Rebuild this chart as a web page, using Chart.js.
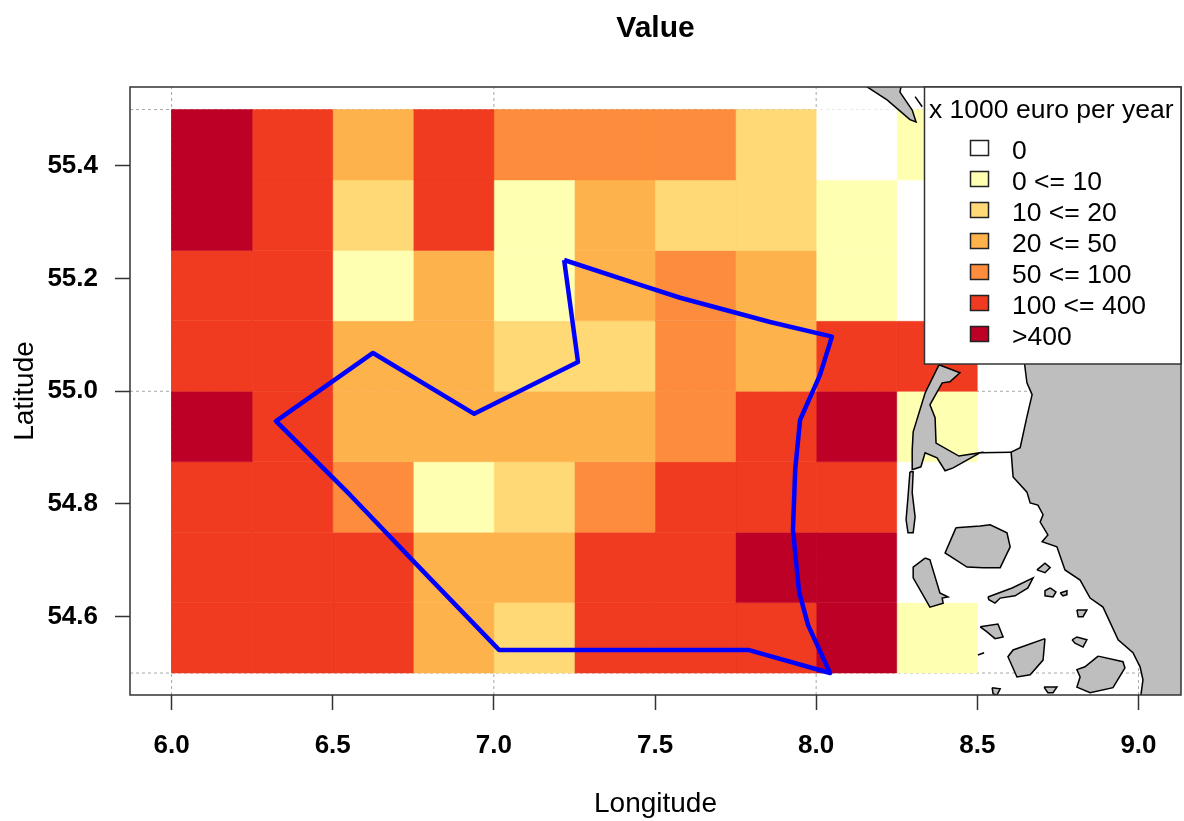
<!DOCTYPE html>
<html>
<head>
<meta charset="utf-8">
<title>Value</title>
<script src="https://cdn.jsdelivr.net/npm/chart.js@4/dist/chart.umd.min.js"></script>
<style>
  html, body { margin: 0; padding: 0; background: #fff; }
  #wrap { width: 1184px; height: 821px; }
</style>
</head>
<body>
<div id="wrap"><canvas id="map" width="1184" height="821"></canvas></div>
<script>
const FONT = '"Liberation Sans", Arial, sans-serif';

// grid cells: lower left corners, one row per latitude band, top row first
const cellLons = [6.0, 6.25, 6.5, 6.75, 7.0, 7.25, 7.5, 7.75, 8.0, 8.25];
const cellLats = [55.375, 55.25, 55.125, 55.0, 54.875, 54.75, 54.625, 54.5];
const cellClasses = [
  [6, 5, 3, 5, 4, 4, 4, 2, 0, 1],
  [6, 5, 2, 5, 1, 3, 2, 2, 1, 0],
  [5, 5, 1, 3, 1, 3, 4, 3, 1, 0],
  [5, 5, 3, 3, 2, 2, 4, 3, 5, 5],
  [6, 5, 3, 3, 3, 3, 4, 5, 6, 1],
  [5, 5, 4, 1, 2, 4, 5, 5, 5, 0],
  [5, 5, 5, 3, 3, 5, 5, 6, 6, 0],
  [5, 5, 5, 3, 2, 5, 5, 5, 6, 1]
];
const classLabels = ['0', '0 <= 10', '10 <= 20', '20 <= 50', '50 <= 100', '100 <= 400', '>400'];
const classColors = ['#FFFFFF', '#FFFFB2', '#FED976', '#FEB24C', '#FD8D3C', '#F03B20', '#BD0026'];
const legendTitle = 'x 1000 euro per year';

const xTicks = [6.0, 6.5, 7.0, 7.5, 8.0, 8.5, 9.0];
const yTicks = [54.6, 54.8, 55.0, 55.2, 55.4];
const gridLons = [6, 7, 8, 9];
const gridLats = [54.5, 55.0, 55.5];

// area outline
const areaOutline = [[7.218,55.233],[7.261,55.052],[6.939,54.960],[6.625,55.068],[6.324,54.947],[6.554,54.816],
  [6.783,54.679],[7.016,54.541],[7.789,54.541],[8.043,54.500],[7.975,54.585],[7.947,54.644],[7.928,54.754],
  [7.935,54.861],[7.950,54.949],[8.012,55.029],[8.049,55.097],[7.857,55.123],[7.578,55.166],[7.454,55.189],[7.218,55.233]];

// coast
const mainland = [[8.645,55.1],[8.645,55.056],[8.654,55.015],[8.670,54.994],[8.654,54.955],[8.633,54.900],[8.605,54.892],
  [8.611,54.848],[8.654,54.821],[8.664,54.802],[8.688,54.798],[8.704,54.781],[8.695,54.768],[8.719,54.745],[8.701,54.733],
  [8.747,54.724],[8.772,54.683],[8.819,54.665],[8.850,54.633],[8.890,54.617],[8.937,54.559],[8.983,54.536],[9.005,54.511],
  [9.014,54.488],[9.005,54.45],[9.2,54.45],[9.2,55.1],[8.645,55.1]];
const northIsland = [[8.105,55.56],[8.27,55.56],[8.260,55.531],[8.298,55.499],[8.310,55.478],[8.291,55.482],[8.220,55.517],[8.105,55.56]];
const northIslet = [[8.307,55.523],[8.329,55.505]];
const sylt = [[8.381,55.047],[8.446,55.033],[8.415,55.017],[8.391,55.015],[8.353,54.976],[8.369,54.953],[8.372,54.908],
  [8.443,54.885],[8.509,54.891],[8.425,54.864],[8.400,54.859],[8.375,54.882],[8.338,54.891],[8.325,54.866],[8.298,54.861],
  [8.298,54.896],[8.301,54.928],[8.338,54.997],[8.381,55.047]];
const causeway = [[8.509,54.891],[8.605,54.892]];
const sandStrip = [[8.291,54.857],[8.301,54.857],[8.298,54.820],[8.307,54.777],[8.301,54.749],[8.285,54.749],[8.279,54.772],[8.285,54.813],[8.291,54.857]];
const bigIsland = [[8.434,54.758],[8.509,54.761],[8.540,54.763],[8.592,54.749],[8.602,54.724],[8.571,54.687],[8.518,54.687],[8.468,54.688],[8.400,54.713],[8.434,54.758]];
const westIsland = [[8.338,54.704],[8.301,54.688],[8.301,54.669],[8.353,54.617],[8.394,54.624],[8.391,54.633],[8.409,54.635],[8.384,54.642],[8.353,54.701],[8.338,54.704]];
const longIslet = [[8.533,54.635],[8.608,54.651],[8.673,54.669],[8.657,54.651],[8.617,54.637],[8.571,54.633],[8.555,54.624],[8.536,54.630],[8.533,54.635]];
const islet1 = [[8.685,54.683],[8.710,54.695],[8.726,54.687],[8.710,54.678],[8.685,54.683]];
const islet2 = [[8.726,54.651],[8.744,54.644],[8.735,54.635],[8.710,54.637],[8.710,54.646],[8.726,54.651]];
const islet3 = [[8.757,54.642],[8.778,54.646],[8.778,54.639],[8.766,54.637],[8.757,54.642]];
const islet4 = [[8.809,54.612],[8.840,54.612],[8.828,54.600],[8.813,54.600],[8.809,54.612]];
const islet5 = [[8.509,54.582],[8.564,54.587],[8.580,54.564],[8.555,54.561],[8.530,54.573],[8.509,54.582]];
const islet6 = [[8.794,54.559],[8.809,54.564],[8.840,54.559],[8.828,54.546],[8.803,54.553],[8.794,54.559]];
const pellworm = [[8.710,54.561],[8.704,54.523],[8.664,54.497],[8.623,54.493],[8.595,54.529],[8.611,54.541],[8.710,54.561]];
const tinyIslet = [[8.502,54.532],[8.521,54.536]];
const nordstrand = [[8.875,54.530],[8.952,54.520],[8.958,54.509],[8.921,54.474],[8.850,54.465],[8.809,54.475],[8.819,54.493],[8.809,54.506],[8.834,54.511],[8.875,54.530]];
const southIslet1 = [[8.546,54.474],[8.571,54.472],[8.561,54.461],[8.549,54.463],[8.546,54.474]];
const southIslet2 = [[8.707,54.475],[8.747,54.475],[8.735,54.465],[8.719,54.465],[8.707,54.475]];

const landShapes = [mainland, northIsland, sylt, sandStrip, bigIsland, westIsland, longIslet, islet1, islet2, islet3,
  islet4, islet5, islet6, pellworm, nordstrand, southIslet1, southIslet2];
const landLines = [northIslet, causeway, tinyIslet];

const xMin = 5.871, xMax = 9.132, yMin = 54.461, yMax = 55.540;

function toXY(pairs) {
  return pairs.map(p => ({x: p[0], y: p[1]}));
}

let datasets = [];

// first dataset ends up on top, chart.js draws them back to front
datasets.push({data: toXY(areaOutline), borderColor: '#0000FF', borderWidth: 4.5, fill: false, borderJoinStyle: 'round'});
landLines.forEach(l => {
  datasets.push({data: toXY(l), borderColor: '#000', borderWidth: 1.5, fill: false});
});
landShapes.forEach(l => {
  datasets.push({data: toXY(l), borderColor: '#000', borderWidth: 1.5, backgroundColor: '#BEBEBE', fill: 'shape'});
});
cellClasses.forEach((row, r) => {
  row.forEach((c, i) => {
    let x0 = cellLons[i], y0 = cellLats[r];
    let pts = [[x0, y0], [x0 + 0.25, y0], [x0 + 0.25, y0 + 0.125], [x0, y0 + 0.125], [x0, y0]];
    datasets.push({data: toXY(pts), borderColor: classColors[c], borderWidth: 0.5, backgroundColor: classColors[c], fill: 'shape'});
  });
});
gridLons.forEach(v => {
  datasets.push({data: toXY([[v, yMin], [v, yMax]]), borderColor: '#A8A8A8', borderWidth: 1, borderDash: [3, 3], fill: false});
});
gridLats.forEach(v => {
  datasets.push({data: toXY([[xMin, v], [xMax, v]]), borderColor: '#A8A8A8', borderWidth: 1, borderDash: [3, 3], fill: false});
});

// box round the plot and the legend on top of everything
const boxAndLegend = {
  id: 'boxAndLegend',
  afterDraw(chart) {
    const {ctx, chartArea: a} = chart;
    ctx.save();
    ctx.strokeStyle = '#333';
    ctx.lineWidth = 1.5;
    ctx.strokeRect(a.left, a.top, a.right - a.left, a.bottom - a.top);

    ctx.fillStyle = '#fff';
    ctx.fillRect(924.5, a.top, a.right - 924.5, 364 - a.top);
    ctx.strokeRect(924.5, a.top, a.right - 924.5, 364 - a.top);

    ctx.fillStyle = '#000';
    ctx.textBaseline = 'middle';
    ctx.font = '26.5px ' + FONT;
    ctx.fillText(legendTitle, 929, 111);
    classLabels.forEach((lab, i) => {
      let cy = 148 + i * 31;
      ctx.fillStyle = classColors[i];
      ctx.fillRect(970.5, cy - 7.5, 18, 15);
      ctx.strokeStyle = '#222';
      ctx.strokeRect(970.5, cy - 7.5, 18, 15);
      ctx.fillStyle = '#000';
      ctx.fillText(lab, 1012, cy + 4);
    });
    ctx.restore();
  }
};

new Chart(document.getElementById('map'), {
  type: 'scatter',
  data: {datasets: datasets},
  plugins: [boxAndLegend],
  options: {
    responsive: false,
    animation: false,
    showLine: true,
    layout: {padding: {left: 0, right: 3, top: 0, bottom: 0}},
    elements: {point: {radius: 0}, line: {tension: 0}},
    plugins: {
      legend: {display: false},
      tooltip: {enabled: false},
      title: {
        display: true,
        fullSize: false,
        text: 'Value',
        color: '#000',
        font: {family: FONT, size: 30, weight: 'bold', lineHeight: 1},
        padding: {top: 14, bottom: 43}
      }
    },
    scales: {
      x: {
        type: 'linear',
        min: xMin,
        max: xMax,
        afterBuildTicks: s => { s.ticks = xTicks.map(v => ({value: v})); },
        afterFit: s => { s.height = 126; },
        grid: {drawOnChartArea: false, drawTicks: true, tickLength: 15, tickColor: '#333', tickWidth: 1.5},
        border: {display: false},
        ticks: {
          color: '#000',
          padding: 20,
          maxRotation: 0,
          font: {family: FONT, size: 26, weight: 'bold'},
          callback: v => v.toFixed(1)
        },
        title: {
          display: true,
          text: 'Longitude',
          color: '#000',
          font: {family: FONT, size: 28},
          padding: {top: 12, bottom: 0}
        }
      },
      y: {
        type: 'linear',
        min: yMin,
        max: yMax,
        afterBuildTicks: s => { s.ticks = yTicks.map(v => ({value: v})); },
        afterFit: s => { s.width = 130; },
        grid: {drawOnChartArea: false, drawTicks: true, tickLength: 15, tickColor: '#333', tickWidth: 1.5},
        border: {display: false},
        ticks: {
          color: '#000',
          padding: 17,
          font: {family: FONT, size: 26, weight: 'bold'},
          callback: v => v.toFixed(1)
        },
        title: {
          display: true,
          text: 'Latitude',
          color: '#000',
          font: {family: FONT, size: 28},
          padding: {top: 8, bottom: 0}
        }
      }
    }
  }
});
</script>
</body>
</html>
